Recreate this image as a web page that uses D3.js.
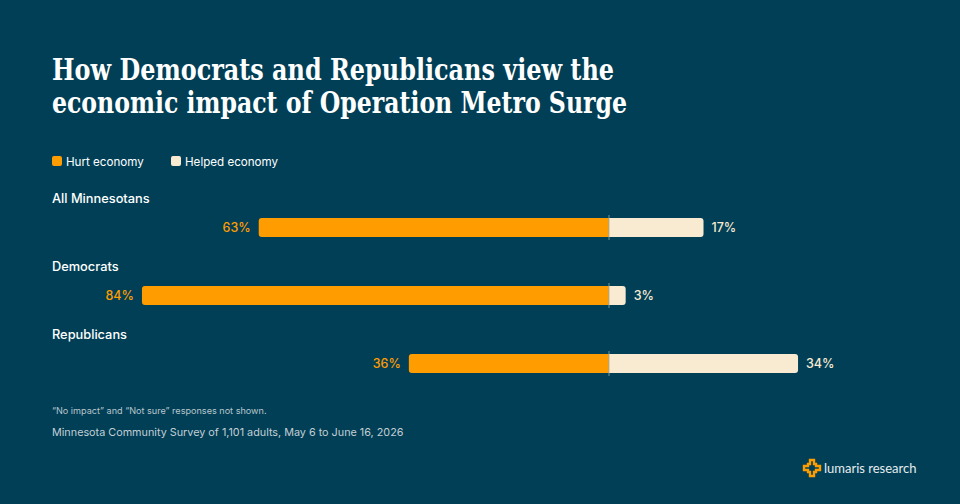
<!DOCTYPE html>
<html>
<head>
<meta charset="utf-8">
<script src="https://cdn.jsdelivr.net/npm/d3@7"></script>
<style>
  html, body { margin: 0; padding: 0; background: #003f56; }
  svg { display: block; }
</style>
</head>
<body>
<div id="chart"></div>
<script>
// Chart data
const groups = ['All Minnesotans', 'Democrats', 'Republicans'];
const hurt = [63, 84, 36];
const helped = [17, 3, 34];
const seriesNames = ['Hurt economy', 'Helped economy'];
const titleLines = ['How Democrats and Republicans view the', 'economic impact of Operation Metro Surge'];
const note = '\u201cNo impact\u201d and \u201cNot sure\u201d responses not shown.';
const source = 'Minnesota Community Survey of 1,101 adults, May 6 to June 16, 2026';

const W = 960, H = 504;
const BG = '#003f56', ORANGE = '#ff9c00', CREAM = '#f8ebd2';
const SANS = 'Inter, "Noto Sans", sans-serif';

const svg = d3.select('#chart').append('svg')
  .attr('width', W).attr('height', H)
  .attr('viewBox', [0, 0, W, H]);

svg.append('rect').attr('width', W).attr('height', H).attr('fill', BG);

// Title (fitted to the reference line widths)
const titleWidths = [562, 575];
svg.append('g').selectAll('text')
  .data(titleLines)
  .join('text')
  .attr('x', 52)
  .attr('y', (d, i) => 80 + i * 33)
  .attr('fill', '#ffffff')
  .attr('font-family', '"DejaVu Serif Condensed", "DejaVu Serif", serif')
  .attr('font-weight', 700)
  .attr('font-size', 29.5)
  .attr('textLength', (d, i) => titleWidths[i])
  .attr('lengthAdjust', 'spacingAndGlyphs')
  .text(d => d);

// Legend
const legend = svg.append('g').attr('transform', 'translate(52,156)');
const legendX = [0, 119];
const leg = legend.selectAll('g').data(seriesNames).join('g')
  .attr('transform', (d, i) => `translate(${legendX[i]},0)`);
leg.append('rect').attr('width', 10).attr('height', 10).attr('rx', 2)
  .attr('fill', (d, i) => i === 0 ? ORANGE : CREAM);
leg.append('text').attr('x', 14).attr('y', 9.5)
  .attr('fill', '#ffffff').attr('font-family', SANS).attr('font-size', 11.6)
  .text(d => d);

// Scales
const center = 609;
const x = d3.scaleLinear().domain([0, 100]).range([0, 556]);
const y = d3.scaleBand().domain(groups).range([186, 390]).paddingInner(0).paddingOuter(0);
const barOffset = 32, barH = 19;

// Rect rounded on one side only
function sideRoundRect(x0, y0, w, h, r, side) {
  const p = d3.path();
  if (side === 'left') {
    p.moveTo(x0 + w, y0);
    p.lineTo(x0 + r, y0);
    p.arcTo(x0, y0, x0, y0 + r, r);
    p.lineTo(x0, y0 + h - r);
    p.arcTo(x0, y0 + h, x0 + r, y0 + h, r);
    p.lineTo(x0 + w, y0 + h);
  } else {
    p.moveTo(x0, y0);
    p.lineTo(x0 + w - r, y0);
    p.arcTo(x0 + w, y0, x0 + w, y0 + r, r);
    p.lineTo(x0 + w, y0 + h - r);
    p.arcTo(x0 + w, y0 + h, x0 + w - r, y0 + h, r);
    p.lineTo(x0, y0 + h);
  }
  p.closePath();
  return p.toString();
}

const rows = svg.append('g').selectAll('g')
  .data(groups)
  .join('g')
  .attr('transform', d => `translate(0,${y(d)})`);

rows.append('text')
  .attr('x', 52).attr('y', 17)
  .attr('fill', '#ffffff').attr('font-family', SANS).attr('font-size', 12.8).attr('font-weight', 500)
  .text(d => d);

rows.append('path')
  .attr('fill', ORANGE)
  .attr('d', (d, i) => sideRoundRect(center - x(hurt[i]), barOffset, x(hurt[i]), barH, 3, 'left'));

rows.append('path')
  .attr('fill', CREAM)
  .attr('d', (d, i) => sideRoundRect(center, barOffset, x(helped[i]), barH, 3, 'right'));

rows.append('line')
  .attr('x1', center).attr('x2', center)
  .attr('y1', barOffset - 3).attr('y2', barOffset + barH + 3)
  .attr('stroke', '#8fa9b5').attr('stroke-opacity', 0.8).attr('stroke-width', 1);

rows.append('text')
  .attr('x', (d, i) => center - x(hurt[i]) - 8)
  .attr('y', barOffset + barH / 2)
  .attr('dy', '0.35em')
  .attr('text-anchor', 'end')
  .attr('fill', ORANGE).attr('font-family', SANS).attr('font-size', 12.5).attr('font-weight', 500)
  .text((d, i) => hurt[i] + '%');

rows.append('text')
  .attr('x', (d, i) => center + x(helped[i]) + 8)
  .attr('y', barOffset + barH / 2)
  .attr('dy', '0.35em')
  .attr('fill', CREAM).attr('font-family', SANS).attr('font-size', 12.5).attr('font-weight', 500)
  .text((d, i) => helped[i] + '%');

// Notes
svg.append('text').attr('x', 52).attr('y', 414)
  .attr('fill', '#b9c6cd').attr('font-family', SANS).attr('font-size', 9.1)
  .text(note);
svg.append('text').attr('x', 52).attr('y', 436)
  .attr('fill', '#c3ced4').attr('font-family', SANS).attr('font-size', 10.8)
  .text(source);

// Logo
const logo = svg.append('g').attr('transform', 'translate(812,468)');
const step = [[-2,-8],[2,-8],[2,-4],[4,-4],[4,-2],[8,-2],[8,2],[4,2],[4,4],[2,4],[2,8],[-2,8],[-2,4],[-4,4],[-4,2],[-8,2],[-8,-2],[-4,-2],[-4,-4],[-2,-4]];
logo.append('path')
  .attr('d', d3.line()(step) + 'Z')
  .attr('fill', 'none').attr('stroke', ORANGE).attr('stroke-width', 2.4).attr('stroke-linejoin', 'miter');
logo.append('text').attr('x', 12).attr('y', 4.5)
  .attr('fill', '#e6ecef').attr('font-family', '"Lato", sans-serif').attr('font-size', 13)
  .text('lumaris research');
</script>
</body>
</html>
